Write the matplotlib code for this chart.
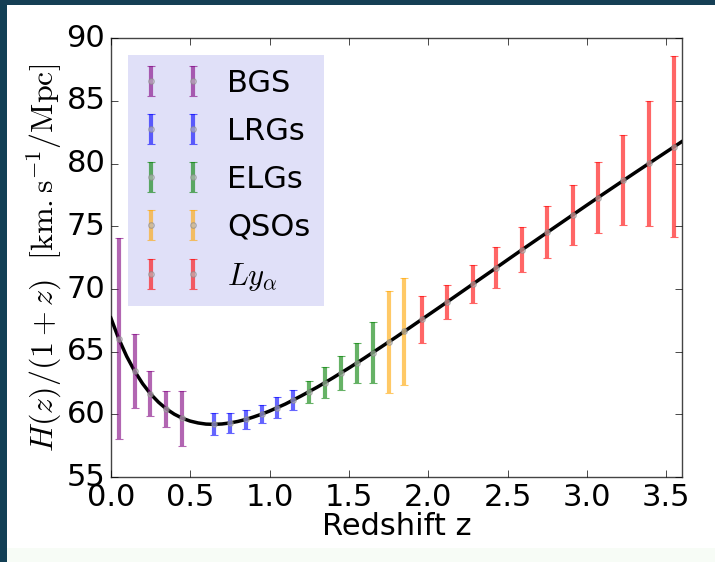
import matplotlib
matplotlib.use("Agg")
import matplotlib.pyplot as plt
from matplotlib.patches import Rectangle

# LCDM expansion history H(z)/(1+z), tabulated
model_z = [0.0, 0.05, 0.1, 0.15, 0.2, 0.25, 0.3, 0.35, 0.4, 0.45, 0.5, 0.55,
           0.6, 0.65, 0.7, 0.75, 0.8, 0.85, 0.9, 0.95, 1.0, 1.1, 1.2, 1.3,
           1.4, 1.5, 1.6, 1.7, 1.8, 1.9, 2.0, 2.1, 2.2, 2.3, 2.4, 2.5, 2.6,
           2.7, 2.8, 2.9, 3.0, 3.1, 3.2, 3.3, 3.4, 3.5, 3.6]
model_h = [67.70, 66.03, 64.63, 63.45, 62.46, 61.64, 60.98, 60.44, 60.02,
           59.70, 59.47, 59.32, 59.23, 59.21, 59.24, 59.32, 59.44, 59.60,
           59.80, 60.02, 60.27, 60.83, 61.48, 62.17, 62.92, 63.70, 64.51,
           65.35, 66.19, 67.06, 67.93, 68.80, 69.68, 70.56, 71.44, 72.33,
           73.21, 74.08, 74.95, 75.82, 76.69, 77.55, 78.40, 79.25, 80.09,
           80.93, 81.77]

# Forecast measurements per tracer
bgs_z = [0.05, 0.15, 0.25, 0.35, 0.45]
bgs_h = [66.03, 63.45, 61.64, 60.44, 59.70]
bgs_err = [8.0, 2.95, 1.8, 1.46, 2.2]

lrg_z = [0.65, 0.75, 0.85, 0.95, 1.05, 1.15]
lrg_h = [59.21, 59.32, 59.60, 60.02, 60.54, 61.15]
lrg_err = [0.88, 0.80, 0.75, 0.72, 0.85, 0.82]

elg_z = [1.25, 1.35, 1.45, 1.55, 1.65]
elg_h = [61.82, 62.54, 63.31, 64.11, 64.93]
elg_err = [0.87, 1.24, 1.37, 1.57, 2.46]

qso_z = [1.75, 1.85]
qso_h = [65.77, 66.62]
qso_err = [4.1, 4.25]

lya_z = [1.96, 2.12, 2.28, 2.43, 2.59, 2.75, 2.91, 3.07, 3.23, 3.39, 3.55]
lya_h = [67.58, 68.98, 70.39, 71.71, 73.12, 74.52, 75.91, 77.29, 78.66,
         80.01, 81.35]
lya_err = [1.86, 1.36, 1.49, 1.61, 1.79, 2.07, 2.40, 2.86, 3.59, 4.98, 7.24]

x_ticks = [0.0, 0.5, 1.0, 1.5, 2.0, 2.5, 3.0, 3.5]
y_ticks = [55, 60, 65, 70, 75, 80, 85, 90]

plt.style.use("classic")
plt.rcParams["mathtext.fontset"] = "cm"
plt.rcParams["font.family"] = "DejaVu Sans"

fig = plt.figure(figsize=(7.15, 5.62), dpi=100, facecolor="white")
ax = fig.add_axes([0.155, 0.151, 0.799, 0.781])

# dark frame strips along the left and top edges
fig.patches.append(Rectangle((0, 0), 7 / 715, 1, transform=fig.transFigure,
                             facecolor="#123f55", edgecolor="none", zorder=0))
fig.patches.append(Rectangle((0, 1 - 5 / 562), 1, 5 / 562,
                             transform=fig.transFigure,
                             facecolor="#153f55", edgecolor="none", zorder=0))
fig.patches.append(Rectangle((7 / 715, 0), 1, 14 / 562,
                             transform=fig.transFigure,
                             facecolor="#f7fcf6", edgecolor="none", zorder=0))

ax.plot(model_z, model_h, color="black", lw=2.5, zorder=3)

tracers = [
    (bgs_z, bgs_h, bgs_err, "purple", "BGS"),
    (lrg_z, lrg_h, lrg_err, "blue", "LRGs"),
    (elg_z, elg_h, elg_err, "green", "ELGs"),
    (qso_z, qso_h, qso_err, "orange", "QSOs"),
    (lya_z, lya_h, lya_err, "red", r"$Ly_{\alpha}$"),
]
for z, h, e, c, lab in tracers:
    ax.errorbar(z, h, yerr=e, fmt="o", color=c, ecolor=c, elinewidth=3,
                capsize=3, capthick=1, alpha=0.6, ms=4, mfc="#bbbbbb",
                mec="#888888", mew=0.8, label=lab, zorder=4)

ax.set_xlim(0, 3.6)
ax.set_ylim(55, 90)
ax.set_xticks(x_ticks)
ax.set_yticks(y_ticks)
ax.tick_params(labelsize=22, direction="in", length=5, top=True, right=True)
ax.tick_params(axis="x", pad=4)
ax.tick_params(axis="y", pad=4)
for s in ax.spines.values():
    s.set_color("#444444")
    s.set_linewidth(1.0)

ax.set_xlabel("Redshift z", fontsize=22, labelpad=0)
ax.set_ylabel(r"$H(z)/(1+z)\ \ [\mathrm{km.s^{-1}/Mpc}]$", fontsize=23,
              labelpad=2)

leg = ax.legend(loc="upper left", numpoints=2, fontsize=22, frameon=True,
                borderaxespad=0.55, handlelength=2.0, handletextpad=0.8,
                labelspacing=0.62, borderpad=0.45)
leg.get_frame().set_facecolor("#e0e0f8")
leg.get_frame().set_edgecolor("none")

fig.savefig("out.png", dpi=100, facecolor="white")
